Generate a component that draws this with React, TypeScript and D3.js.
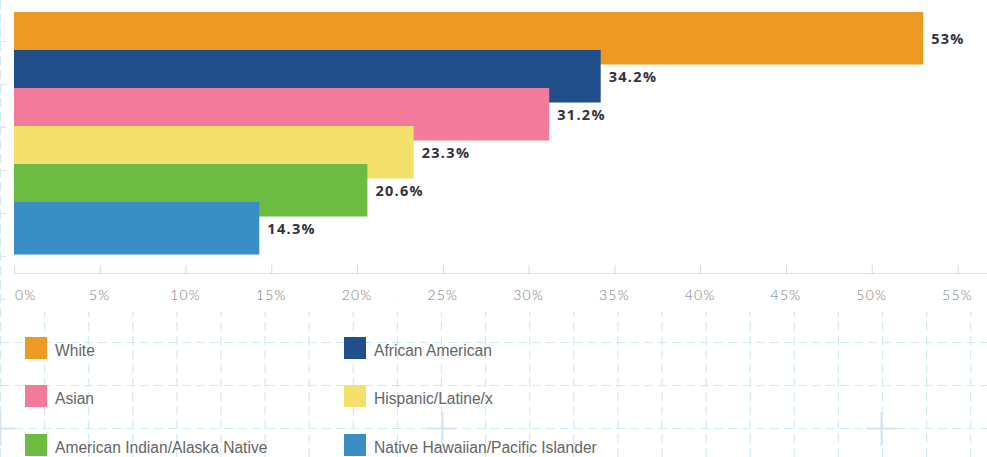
import React from "react";
import * as d3 from "d3";

const categories = [
  "White",
  "African American",
  "Asian",
  "Hispanic/Latine/x",
  "American Indian/Alaska Native",
  "Native Hawaiian/Pacific Islander",
];
const values = [53, 34.2, 31.2, 23.3, 20.6, 14.3];
const valueLabels = ["53%", "34.2%", "31.2%", "23.3%", "20.6%", "14.3%"];
const colors = ["#ED9A22", "#1F4E8A", "#F27B9C", "#F3E16C", "#6CBB43", "#3A8EC6"];
const tickValues = [0, 5, 10, 15, 20, 25, 30, 35, 40, 45, 50, 55];

const W = 987;
const H = 457;

export default function App() {
  const x = d3.scaleLinear().domain([0, 55]).range([14, 957.5]);
  const y = d3
    .scaleBand<number>()
    .domain(d3.range(categories.length))
    .range([12, 240])
    .paddingInner(0)
    .paddingOuter(0);
  const step = y.step();
  const barH = 52.5;

  const gridX = d3.range(0, 24).map((k) => k * 44.1);
  const gridY = d3.range(0, 11).map((k) => 428 - k * 43);

  const legendCols = [25, 344];
  const legendRows = [337, 385, 434];

  return (
    <div style={{ position: "fixed", left: 0, top: 0, width: W, height: H }}>
      <svg width={W} height={H} style={{ display: "block", background: "#fff" }}>
        <g>
          {gridX.map((gx, i) => (
            <line key={"gx" + i} x1={gx + 0.5} x2={gx + 0.5} y1={0} y2={H}
              stroke="#d3e9f2" strokeWidth={1.2} strokeDasharray="9,5" />
          ))}
          {gridY.map((gy, i) => (
            <line key={"gy" + i} x1={0} x2={W} y1={gy + 0.5} y2={gy + 0.5}
              stroke="#d3e9f2" strokeWidth={1.2} strokeDasharray="9,5" />
          ))}
          {[0, 442, 881].map((cx, i) => (
            <g key={"c" + i} stroke="#d5e4f3" strokeWidth={2}>
              <line x1={cx - 15} x2={cx + 15} y1={428.5} y2={428.5} />
              <line x1={cx + 0.5} x2={cx + 0.5} y1={412} y2={446} />
            </g>
          ))}
        </g>
        <rect x={6} y={0} width={W - 6} height={312} fill="#fff" opacity={0.93} />
        <g>
          {values.map((v, i) => (
            <rect key={"b" + i} x={x(0)} y={(y(i) as number)} width={x(v) - x(0)}
              height={barH} fill={colors[i]} />
          ))}
          {values.map((v, i) => (
            <text key={"t" + i} x={x(v) + 8} y={(y(i) as number) + step - 10}
              dominantBaseline="middle" fontFamily="'Open Sans', sans-serif" fontWeight={700}
              fontSize={14.5} letterSpacing={1.3} fill="#333340">
              {valueLabels[i]}
            </text>
          ))}
        </g>
        <g>
          <line x1={x(0)} x2={W} y1={273.5} y2={273.5} stroke="#e0e0e0" strokeWidth={1} />
          {tickValues.map((t, i) => (
            <g key={"k" + i}>
              <line x1={x(t) + 0.5} x2={x(t) + 0.5} y1={265} y2={274} stroke="#d8d8d8" />
              <text x={i === 0 ? x(t) + 1 : x(t)} y={297}
                textAnchor={i === 0 ? "start" : "middle"} dominantBaseline="middle"
                fontFamily="Lato, sans-serif" fontWeight={300} fontSize={14}
                letterSpacing={1.2} fill="#7d7d7d">
                {t + "%"}
              </text>
            </g>
          ))}
        </g>
        <g>
          {categories.map((c, i) => {
            const col = i % 2;
            const row = Math.floor(i / 2);
            const lx = legendCols[col];
            const ly = legendRows[row];
            return (
              <g key={"l" + i}>
                <rect x={lx} y={ly} width={22} height={22} fill={colors[i]} />
                <text x={lx + 30} y={ly + 15} dominantBaseline="middle"
                  fontFamily="'Liberation Sans', Arial, sans-serif" fontSize={15.6} fill="#666">
                  {c}
                </text>
              </g>
            );
          })}
        </g>
      </svg>
    </div>
  );
}
